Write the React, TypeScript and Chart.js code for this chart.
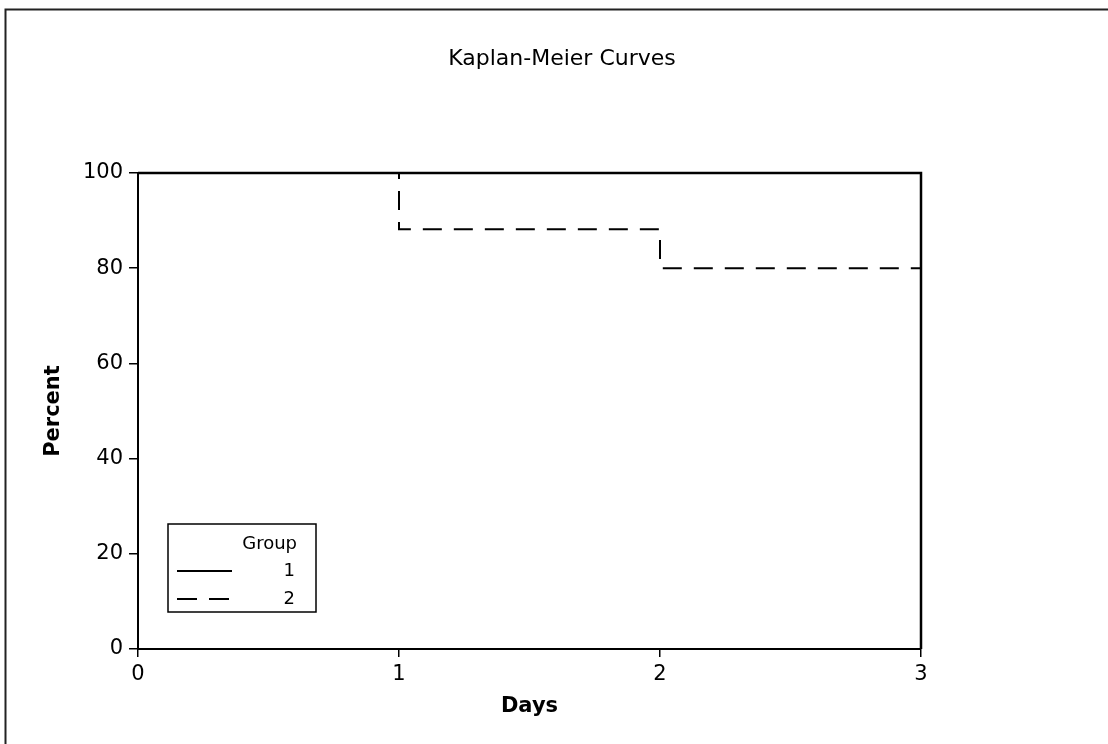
import React, { useEffect, useRef } from "react";
import { Chart, registerables } from "chart.js";

Chart.register(...registerables);

const chartTitle = "Kaplan-Meier Curves";
const xAxisTitle = "Days";
const yAxisTitle = "Percent";
const legendTitle = "Group";
const groupNames = ["1", "2"];

const group1Days = [0, 3];
const group1Percent = [100, 0];
const group2Days = [0, 1, 2, 3];
const group2Percent = [100, 88.2, 80, 0];

const xTicks = [0, 1, 2, 3];
const yTicks = [0, 20, 40, 60, 80, 100];

const FONT = "'DejaVu Sans', Verdana, sans-serif";
const DASH = [19, 12];

const framePlugin = {
  id: "frame",
  beforeDraw(chart: any) {
    const ctx = chart.ctx;
    ctx.save();
    ctx.strokeStyle = "#222";
    ctx.lineWidth = 2;
    ctx.strokeRect(5.5, 9.5, 3000, 3000);
    ctx.fillStyle = "#000";
    ctx.font = `22px ${FONT}`;
    ctx.textAlign = "center";
    ctx.textBaseline = "middle";
    ctx.fillText(chartTitle, 562, 59);
    ctx.restore();
  },
};

const legendPlugin = {
  id: "kmLegend",
  afterDraw(chart: any) {
    const ctx = chart.ctx;
    const a = chart.chartArea;
    const left = a.left + 30;
    const top = a.bottom - 125;
    const w = 148;
    const h = 88;
    ctx.save();
    ctx.strokeStyle = "#000";
    ctx.lineWidth = 1.5;
    ctx.strokeRect(left, top, w, h);
    ctx.fillStyle = "#000";
    ctx.font = `18px ${FONT}`;
    ctx.textAlign = "right";
    ctx.textBaseline = "middle";
    ctx.fillText(legendTitle, left + 129, top + 20);
    const rows = [top + 47, top + 75];
    groupNames.forEach((name, i) => {
      ctx.fillText(name, left + 127, rows[i]);
      ctx.beginPath();
      ctx.setLineDash(i === 0 ? [] : [20, 12]);
      ctx.lineWidth = 1.8;
      ctx.moveTo(left + 9, rows[i]);
      ctx.lineTo(left + (i === 0 ? 64 : 61), rows[i]);
      ctx.stroke();
    });
    ctx.restore();
  },
};

export default function App() {
  const ref = useRef<HTMLCanvasElement | null>(null);
  useEffect(() => {
    if (!ref.current) return;
    Chart.defaults.color = "#000";
    const chart = new Chart(ref.current, {
      type: "line",
      data: {
        datasets: [
          {
            label: groupNames[0],
            data: group1Days.map((d, i) => ({ x: d, y: group1Percent[i] })),
            borderColor: "#000",
            borderWidth: 2.5,
            stepped: "before",
            pointRadius: 0,
            fill: false,
            clip: false as any,
          },
          {
            label: groupNames[1],
            data: group2Days.map((d, i) => ({ x: d, y: group2Percent[i] })),
            borderColor: "#000",
            borderWidth: 2,
            borderDash: DASH,
            stepped: "before",
            pointRadius: 0,
            fill: false,
            clip: false as any,
          },
        ],
      },
      options: {
        responsive: false,
        animation: false,
        devicePixelRatio: 1,
        layout: { padding: { left: 0, right: 187, top: 173, bottom: 0 } },
        plugins: {
          legend: { display: false },
          tooltip: { enabled: false },
          title: { display: false },
        },
        scales: {
          x: {
            type: "linear",
            min: 0,
            max: 3,
            afterBuildTicks: (s: any) => {
              s.ticks = xTicks.map((v) => ({ value: v }));
            },
            afterFit: (s: any) => {
              s.height = 95;
            },
            ticks: {
              font: { family: FONT, size: 21 },
              color: "#000",
              padding: 5,
            },
            grid: {
              drawOnChartArea: false,
              drawTicks: true,
              tickLength: 8,
              color: "#000",
              lineWidth: 1.5,
            },
            border: { display: true, color: "#000", width: 2 },
            title: {
              display: true,
              text: xAxisTitle,
              color: "#000",
              font: { family: FONT, size: 21, weight: "bold" },
              padding: { top: 0, bottom: 25 },
            },
          },
          y: {
            type: "linear",
            min: 0,
            max: 100,
            afterBuildTicks: (s: any) => {
              s.ticks = yTicks.map((v) => ({ value: v }));
            },
            afterFit: (s: any) => {
              s.width = 138;
            },
            ticks: {
              font: { family: FONT, size: 21 },
              color: "#000",
              padding: 6,
            },
            grid: {
              drawOnChartArea: false,
              drawTicks: true,
              tickLength: 9,
              color: "#000",
              lineWidth: 1.5,
            },
            border: { display: true, color: "#000", width: 2 },
            title: {
              display: true,
              text: yAxisTitle,
              color: "#000",
              font: { family: FONT, size: 21, weight: "bold" },
              padding: { top: 41, bottom: 0 },
            },
          },
        },
      },
      plugins: [framePlugin, legendPlugin],
    });
    return () => chart.destroy();
  }, []);
  return (
    <div style={{ position: "fixed", left: 0, top: 0, width: 1108, height: 744, overflow: "hidden", background: "#fff" }}>
      <canvas ref={ref} width={1108} height={744} style={{ width: 1108, height: 744, display: "block" }} />
    </div>
  );
}
